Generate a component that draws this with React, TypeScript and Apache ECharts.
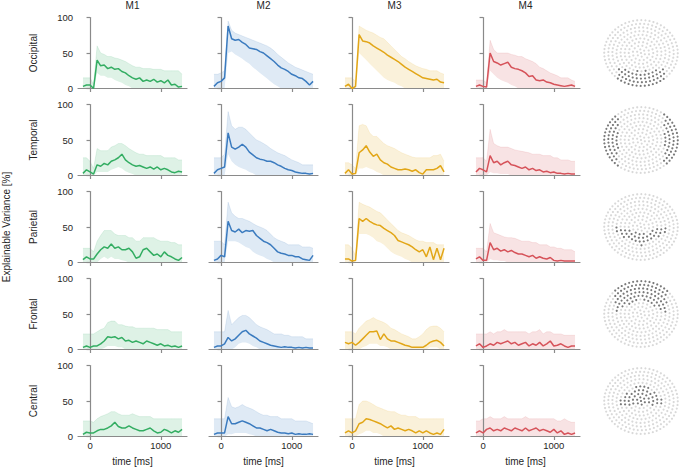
import React, { useEffect, useRef } from "react";
import * as echarts from "echarts";

const MODELS = ["M1", "M2", "M3", "M4"];
const REGIONS = ["Occipital", "Temporal", "Parietal", "Frontal", "Central"];
const COLORS = ["#33ad62", "#3b7bbf", "#e2a617", "#d6535a"];
const X_TICKS = [0, 1000];
const TIMES = [-100, -50, 0, 50, 100, 150, 200, 250, 300, 350, 400, 450, 500, 550, 600, 650, 700, 750, 800, 850, 900, 950, 1000, 1050, 1100, 1150, 1200, 1250, 1300];

// Occipital
const occM1Mean = [3, 5, 5, 0, 40, 32, 33, 28, 30, 27, 28, 24, 22, 18, 15, 13, 15, 10, 12, 10, 13, 9, 11, 8, 12, 5, 6, 2, 3];
const occM1Hi = [15, 15, 15, 6, 60, 50, 48, 45, 45, 43, 42, 40, 38, 35, 32, 30, 30, 28, 28, 28, 27, 27, 27, 25, 25, 25, 25, 25, 20];
const occM1Lo = [0, 0, 0, 0, 22, 18, 18, 15, 15, 12, 10, 8, 5, 3, 0, 0, 0, 0, 0, 0, 0, 0, 0, 0, 0, 0, 0, 0, 0];
const occM2Mean = [3, 8, 10, 15, 88, 70, 68, 69, 65, 62, 57, 56, 55, 52, 50, 46, 42, 38, 33, 29, 27, 24, 20, 18, 15, 14, 10, 5, 10];
const occM2Hi = [20, 20, 22, 25, 95, 82, 78, 76, 74, 72, 70, 68, 66, 64, 62, 60, 57, 53, 48, 44, 40, 36, 33, 30, 28, 26, 24, 22, 20];
const occM2Lo = [0, 0, 0, 0, 50, 52, 48, 45, 42, 38, 35, 30, 26, 22, 18, 14, 10, 6, 3, 0, 0, 0, 0, 0, 0, 0, 0, 0, 0];
const occM3Mean = [3, 6, 0, 3, 76, 67, 66, 64, 60, 57, 54, 51, 47, 44, 41, 38, 34, 30, 27, 24, 21, 18, 15, 14, 13, 12, 13, 9, 8];
const occM3Hi = [15, 15, 15, 10, 88, 85, 82, 80, 78, 75, 72, 70, 65, 60, 55, 50, 45, 42, 38, 35, 32, 30, 28, 27, 25, 25, 25, 22, 20];
const occM3Lo = [0, 0, 0, 0, 50, 45, 40, 35, 30, 25, 20, 15, 12, 10, 8, 5, 3, 0, 0, 0, 0, 0, 0, 0, 0, 0, 0, 0, 0];
const occM4Mean = [3, 5, 3, 2, 50, 38, 36, 33, 35, 37, 30, 28, 27, 25, 22, 17, 18, 12, 11, 12, 9, 8, 6, 5, 4, 3, 4, 5, 3];
const occM4Hi = [12, 12, 12, 8, 68, 55, 50, 50, 50, 50, 48, 47, 45, 45, 42, 40, 38, 35, 30, 28, 25, 22, 20, 18, 15, 15, 15, 12, 10];
const occM4Lo = [0, 0, 0, 0, 25, 20, 15, 12, 10, 8, 5, 3, 0, 0, 0, 0, 0, 0, 0, 0, 0, 0, 0, 0, 0, 0, 0, 0, 0];

// Temporal
const temM1Mean = [3, 8, 5, 2, 15, 13, 17, 15, 20, 22, 25, 30, 22, 18, 15, 13, 14, 12, 10, 12, 9, 12, 8, 10, 8, 5, 4, 6, 5];
const temM1Hi = [25, 25, 20, 10, 38, 35, 35, 35, 40, 42, 45, 45, 42, 38, 35, 32, 30, 30, 28, 28, 28, 28, 28, 25, 25, 25, 25, 22, 22];
const temM1Lo = [0, 0, 0, 0, 5, 5, 5, 5, 8, 10, 12, 10, 6, 4, 2, 0, 0, 0, 0, 0, 0, 0, 0, 0, 0, 0, 0, 0, 0];
const temM2Mean = [3, 8, 10, 12, 60, 40, 37, 40, 44, 40, 33, 29, 25, 23, 22, 20, 20, 18, 15, 13, 10, 8, 7, 5, 4, 3, 3, 2, 3];
const temM2Hi = [25, 25, 25, 30, 90, 70, 65, 68, 68, 65, 60, 55, 50, 48, 45, 42, 38, 35, 32, 30, 28, 25, 22, 20, 18, 15, 15, 15, 15];
const temM2Lo = [0, 0, 0, 0, 30, 20, 15, 12, 10, 8, 5, 3, 0, 0, 0, 0, 0, 0, 0, 0, 0, 0, 0, 0, 0, 0, 0, 0, 0];
const temM3Mean = [3, 8, 2, 3, 32, 36, 42, 33, 27, 30, 22, 18, 16, 12, 10, 8, 8, 9, 8, 6, 8, 4, 2, 8, 8, 8, 10, 14, 5];
const temM3Hi = [18, 18, 15, 10, 70, 72, 70, 60, 55, 55, 50, 45, 42, 40, 38, 35, 32, 30, 28, 26, 25, 25, 25, 25, 25, 28, 28, 30, 20];
const temM3Lo = [0, 0, 0, 0, 10, 10, 12, 10, 8, 5, 3, 0, 0, 0, 0, 0, 0, 0, 0, 0, 0, 0, 0, 0, 0, 0, 0, 0, 0];
const temM4Mean = [5, 10, 8, 5, 28, 18, 20, 15, 18, 20, 15, 14, 12, 10, 12, 8, 10, 7, 8, 5, 6, 4, 5, 3, 3, 2, 3, 2, 2];
const temM4Hi = [25, 25, 25, 20, 65, 45, 42, 40, 40, 40, 38, 36, 35, 34, 33, 32, 30, 30, 30, 28, 28, 28, 25, 25, 22, 22, 22, 20, 20];
const temM4Lo = [0, 0, 0, 0, 5, 3, 3, 2, 2, 2, 0, 0, 0, 0, 0, 0, 0, 0, 0, 0, 0, 0, 0, 0, 0, 0, 0, 0, 0];

// Parietal
const parM1Mean = [4, 8, 5, 5, 12, 18, 22, 20, 26, 20, 22, 18, 18, 20, 15, 6, 8, 18, 20, 15, 10, 12, 8, 15, 10, 8, 5, 3, 7];
const parM1Hi = [20, 20, 20, 15, 30, 38, 45, 45, 45, 40, 38, 38, 38, 35, 35, 30, 30, 35, 35, 35, 35, 32, 30, 30, 30, 28, 28, 25, 25];
const parM1Lo = [0, 0, 0, 0, 0, 5, 8, 5, 8, 5, 5, 3, 2, 0, 0, 0, 0, 0, 0, 0, 0, 0, 0, 0, 0, 0, 0, 0, 0];
const parM2Mean = [3, 5, 10, 8, 58, 45, 43, 47, 42, 45, 44, 45, 38, 34, 30, 28, 25, 20, 15, 13, 12, 10, 10, 8, 8, 5, 4, 3, 10];
const parM2Hi = [30, 30, 30, 25, 85, 70, 65, 62, 62, 60, 58, 55, 52, 50, 48, 45, 40, 35, 32, 30, 28, 25, 25, 25, 25, 22, 22, 22, 20];
const parM2Lo = [0, 0, 0, 0, 30, 30, 30, 28, 25, 22, 20, 15, 12, 10, 8, 5, 3, 0, 0, 0, 0, 0, 0, 0, 0, 0, 0, 0, 0];
const parM3Mean = [5, 5, 2, 3, 62, 58, 62, 58, 55, 53, 52, 48, 45, 42, 38, 31, 29, 27, 25, 22, 18, 15, 18, 8, 22, 4, 20, 4, 20];
const parM3Hi = [25, 25, 20, 10, 85, 82, 80, 78, 75, 72, 70, 65, 60, 55, 50, 45, 42, 40, 38, 35, 32, 30, 30, 28, 28, 28, 25, 25, 25];
const parM3Lo = [0, 0, 0, 0, 40, 40, 40, 38, 35, 30, 28, 25, 20, 15, 12, 10, 8, 5, 3, 0, 0, 0, 0, 0, 0, 0, 0, 0, 0];
const parM4Mean = [5, 8, 3, 3, 28, 18, 20, 16, 18, 15, 17, 14, 12, 12, 10, 8, 10, 6, 8, 6, 5, 7, 3, 2, 3, 2, 2, 2, 2];
const parM4Hi = [20, 20, 20, 15, 55, 42, 40, 38, 36, 35, 35, 34, 32, 30, 30, 30, 28, 28, 25, 25, 25, 22, 22, 20, 20, 18, 18, 18, 15];
const parM4Lo = [0, 0, 0, 0, 5, 3, 3, 2, 2, 0, 0, 0, 0, 0, 0, 0, 0, 0, 0, 0, 0, 0, 0, 0, 0, 0, 0, 0, 0];

// Frontal
const froM1Mean = [3, 5, 3, 5, 5, 8, 12, 18, 17, 18, 15, 17, 12, 13, 10, 12, 10, 8, 12, 10, 8, 6, 8, 5, 6, 4, 5, 3, 5];
const froM1Hi = [22, 22, 22, 22, 25, 28, 30, 38, 40, 40, 35, 35, 33, 32, 32, 30, 30, 30, 30, 30, 30, 28, 28, 28, 28, 25, 25, 25, 25];
const froM1Lo = [0, 0, 0, 0, 0, 0, 2, 5, 5, 5, 3, 3, 0, 0, 0, 0, 0, 0, 0, 0, 0, 0, 0, 0, 0, 0, 0, 0, 0];
const froM2Mean = [3, 5, 5, 8, 17, 12, 15, 20, 25, 27, 22, 19, 16, 12, 10, 8, 6, 5, 4, 3, 4, 3, 3, 2, 3, 2, 3, 2, 2];
const froM2Hi = [25, 25, 25, 25, 55, 35, 40, 45, 48, 48, 45, 40, 35, 32, 30, 28, 25, 22, 22, 22, 20, 20, 18, 18, 18, 18, 15, 15, 15];
const froM2Lo = [0, 0, 0, 0, 0, 0, 3, 8, 10, 10, 8, 5, 3, 0, 0, 0, 0, 0, 0, 0, 0, 0, 0, 0, 0, 0, 0, 0, 0];
const froM3Mean = [10, 8, 10, 6, 10, 15, 20, 25, 25, 26, 14, 22, 15, 12, 12, 10, 8, 6, 5, 3, 3, 3, 3, 6, 10, 12, 13, 10, 5];
const froM3Hi = [25, 25, 25, 22, 30, 35, 40, 42, 45, 42, 40, 38, 35, 30, 28, 25, 22, 20, 18, 15, 15, 18, 22, 28, 32, 33, 33, 30, 25];
const froM3Lo = [0, 0, 0, 0, 0, 3, 5, 8, 8, 8, 5, 5, 3, 0, 0, 0, 0, 0, 0, 0, 0, 0, 0, 0, 3, 3, 3, 0, 0];
const froM4Mean = [5, 8, 3, 5, 8, 6, 10, 8, 10, 12, 8, 10, 6, 8, 10, 5, 8, 6, 10, 5, 8, 12, 5, 6, 8, 5, 3, 5, 5];
const froM4Hi = [22, 22, 22, 22, 25, 22, 25, 25, 28, 25, 25, 25, 25, 25, 25, 22, 25, 25, 28, 22, 25, 25, 22, 22, 22, 20, 20, 20, 20];
const froM4Lo = [0, 0, 0, 0, 0, 0, 0, 0, 0, 0, 0, 0, 0, 0, 0, 0, 0, 0, 0, 0, 0, 0, 0, 0, 0, 0, 0, 0, 0];

// Central
const cenM1Mean = [3, 6, 5, 5, 8, 10, 10, 12, 15, 20, 14, 12, 12, 15, 12, 10, 8, 8, 10, 12, 8, 5, 6, 10, 8, 5, 8, 6, 10];
const cenM1Hi = [22, 22, 22, 20, 25, 28, 30, 32, 35, 35, 32, 30, 30, 30, 32, 30, 28, 28, 28, 28, 25, 25, 25, 25, 25, 25, 25, 25, 25];
const cenM1Lo = [0, 0, 0, 0, 0, 0, 0, 0, 0, 0, 0, 0, 0, 0, 0, 0, 0, 0, 0, 0, 0, 0, 0, 0, 0, 0, 0, 0, 0];
const cenM2Mean = [3, 5, 5, 5, 28, 18, 18, 20, 22, 20, 18, 15, 12, 12, 10, 8, 10, 8, 6, 5, 5, 4, 5, 3, 4, 3, 3, 4, 3];
const cenM2Hi = [25, 25, 25, 25, 55, 42, 40, 42, 45, 42, 40, 38, 35, 32, 30, 30, 28, 28, 28, 25, 25, 25, 25, 22, 22, 22, 22, 20, 18];
const cenM2Lo = [0, 0, 0, 0, 3, 3, 5, 5, 5, 5, 3, 2, 0, 0, 0, 0, 0, 0, 0, 0, 0, 0, 0, 0, 0, 0, 0, 0, 0];
const cenM3Mean = [5, 8, 5, 8, 18, 20, 25, 24, 22, 20, 18, 15, 12, 15, 10, 12, 10, 8, 10, 8, 5, 8, 5, 8, 5, 3, 5, 3, 10];
const cenM3Hi = [25, 25, 25, 25, 45, 50, 50, 48, 45, 42, 40, 38, 36, 35, 35, 32, 30, 30, 28, 28, 28, 25, 25, 25, 25, 25, 25, 25, 25];
const cenM3Lo = [0, 0, 0, 0, 3, 5, 8, 8, 5, 5, 3, 0, 0, 0, 0, 0, 0, 0, 0, 0, 0, 0, 0, 0, 0, 0, 0, 0, 0];
const cenM4Mean = [5, 8, 5, 10, 12, 8, 10, 8, 12, 10, 8, 12, 10, 8, 12, 8, 10, 12, 8, 10, 8, 6, 10, 5, 8, 3, 5, 3, 5];
const cenM4Hi = [22, 22, 25, 25, 28, 25, 25, 25, 28, 25, 25, 25, 25, 25, 28, 25, 25, 25, 25, 25, 25, 25, 25, 22, 22, 25, 22, 20, 20];
const cenM4Lo = [0, 0, 0, 0, 0, 0, 0, 0, 0, 0, 0, 0, 0, 0, 0, 0, 0, 0, 0, 0, 0, 0, 0, 0, 0, 0, 0, 0, 0];

const PANELS = [
  [[occM1Mean, occM1Lo, occM1Hi], [occM2Mean, occM2Lo, occM2Hi], [occM3Mean, occM3Lo, occM3Hi], [occM4Mean, occM4Lo, occM4Hi]],
  [[temM1Mean, temM1Lo, temM1Hi], [temM2Mean, temM2Lo, temM2Hi], [temM3Mean, temM3Lo, temM3Hi], [temM4Mean, temM4Lo, temM4Hi]],
  [[parM1Mean, parM1Lo, parM1Hi], [parM2Mean, parM2Lo, parM2Hi], [parM3Mean, parM3Lo, parM3Hi], [parM4Mean, parM4Lo, parM4Hi]],
  [[froM1Mean, froM1Lo, froM1Hi], [froM2Mean, froM2Lo, froM2Hi], [froM3Mean, froM3Lo, froM3Hi], [froM4Mean, froM4Lo, froM4Hi]],
  [[cenM1Mean, cenM1Lo, cenM1Hi], [cenM2Mean, cenM2Lo, cenM2Hi], [cenM3Mean, cenM3Lo, cenM3Hi], [cenM4Mean, cenM4Lo, cenM4Hi]],
];

// layout
const GRID_LEFT = [78, 209, 340, 471];
const GRID_TOP0 = 17.5;
const ROW_PITCH = 87;
const GRID_W = 109;
const GRID_H = 71;
const AXIS_COLOR = "#8a8a8a";
const TEXT_COLOR = "#262626";
const FONT = "Liberation Sans, Arial, sans-serif";
const HEAD_CX = 641;
const HEAD_RX = 38;
const HEAD_RY = 34;
const RING_COUNTS = [1, 6, 12, 18, 25, 31, 37, 43, 50, 56];

function inRegion(region: string, u: number, v: number): boolean {
  const au = Math.abs(u);
  switch (region) {
    case "Occipital":
      return v > 0.42 + 0.12 * (1 - au / 0.62) && au < 0.64;
    case "Temporal":
      return au > 0.6 && Math.abs(v) < 0.8;
    case "Parietal":
      return au < 0.66 && v > 0.2 - 0.36 * au && v < 0.56 - 0.55 * au;
    case "Frontal":
      return au < 0.7 && v < -0.45 + 0.62 * au;
    case "Central":
      return au < 0.6 && v > -0.56 + 0.88 * au && v < 0.13;
  }
  return false;
}

function headGraphics(region: string, cy: number) {
  const els: any[] = [];
  RING_COUNTS.forEach((n, k) => {
    const rr = k / 9.3;
    for (let j = 0; j < n; j++) {
      const a = (2 * Math.PI * j) / n + k * 0.35;
      const u = rr * Math.cos(a);
      const v = rr * Math.sin(a);
      const dark = inRegion(region, u, v);
      els.push({
        type: "circle",
        silent: true,
        shape: { cx: HEAD_CX + u * HEAD_RX, cy: cy + v * HEAD_RY, r: 1.1 },
        style: { fill: dark ? "#7a7a7a" : "#d9d9d9" },
        z: dark ? 11 : 10,
      });
    }
  });
  return els;
}

function buildOption() {
  const grid: any[] = [];
  const xAxis: any[] = [];
  const yAxis: any[] = [];
  const series: any[] = [];
  const graphic: any[] = [];

  PANELS.forEach((row, r) => {
    row.forEach((p, c) => {
      const gi = r * 4 + c;
      const [mean, lo, hi] = p;
      grid.push({ left: GRID_LEFT[c], top: GRID_TOP0 + r * ROW_PITCH, width: GRID_W, height: GRID_H });
      xAxis.push({
        gridIndex: gi,
        type: "value",
        min: -170,
        max: 1370,
        z: 5,
        axisLine: { show: true, lineStyle: { color: AXIS_COLOR, width: 1.2 } },
        axisTick: { show: true, length: 3.5, customValues: X_TICKS, lineStyle: { color: AXIS_COLOR, width: 1.2 } },
        axisLabel: {
          show: r === 4,
          customValues: X_TICKS,
          formatter: (v: number) => String(v),
          fontSize: 9.5,
          fontFamily: FONT,
          color: TEXT_COLOR,
          margin: 4,
        },
        splitLine: { show: false },
        name: r === 4 ? "time [ms]" : "",
        nameLocation: "middle",
        nameGap: 20,
        nameTextStyle: { fontSize: 10, fontFamily: FONT, color: TEXT_COLOR },
      });
      yAxis.push({
        gridIndex: gi,
        type: "value",
        min: 0,
        max: 100,
        interval: 50,
        z: 5,
        axisLine: { show: true, lineStyle: { color: AXIS_COLOR, width: 1.2 } },
        axisTick: { show: true, length: 3.5, lineStyle: { color: AXIS_COLOR, width: 1.2 } },
        axisLabel: { show: c === 0, fontSize: 9.5, fontFamily: FONT, color: TEXT_COLOR, margin: 5 },
        splitLine: { show: false },
      });
      // upper envelope of the individual traces (filled to zero)
      series.push({
        type: "line",
        xAxisIndex: gi,
        yAxisIndex: gi,
        symbol: "none",
        silent: true,
        lineStyle: { width: 0.6, color: COLORS[c], opacity: 0.2 },
        areaStyle: { color: COLORS[c], opacity: 0.16 },
        data: TIMES.map((t, i) => [t, hi[i]]),
        z: 1,
      });
      // lower envelope: mask with background
      series.push({
        type: "line",
        xAxisIndex: gi,
        yAxisIndex: gi,
        symbol: "none",
        silent: true,
        lineStyle: { width: 0, opacity: 0 },
        areaStyle: { color: "#ffffff", opacity: 1 },
        data: TIMES.map((t, i) => [t, lo[i]]),
        z: 2,
      });
      series.push({
        type: "line",
        xAxisIndex: gi,
        yAxisIndex: gi,
        symbol: "none",
        silent: true,
        lineStyle: { color: COLORS[c], width: 1.5 },
        data: TIMES.map((t, i) => [t, mean[i]]),
        z: 6,
      });
    });
  });

  MODELS.forEach((m, c) => {
    graphic.push({
      type: "text",
      x: GRID_LEFT[c] + GRID_W / 2,
      y: 0,
      silent: true,
      style: { text: m, fontSize: 10, fontFamily: FONT, fill: TEXT_COLOR, align: "center", verticalAlign: "top" },
    });
  });

  REGIONS.forEach((name, r) => {
    const cy = GRID_TOP0 + r * ROW_PITCH + GRID_H / 2;
    graphic.push({
      type: "text",
      x: 33,
      y: cy,
      rotation: Math.PI / 2,
      silent: true,
      style: { text: name, fontSize: 10, fontFamily: FONT, fill: TEXT_COLOR, align: "center", verticalAlign: "middle" },
    });
    headGraphics(name, cy).forEach((e) => graphic.push(e));
  });

  graphic.push({
    type: "text",
    x: 6,
    y: (GRID_TOP0 + GRID_TOP0 + 4 * ROW_PITCH + GRID_H) / 2,
    rotation: Math.PI / 2,
    silent: true,
    style: { text: "Explainable Variance [%]", fontSize: 10, fontFamily: FONT, fill: TEXT_COLOR, align: "center", verticalAlign: "middle" },
  });

  return {
    animation: false,
    backgroundColor: "#ffffff",
    grid,
    xAxis,
    yAxis,
    series,
    graphic,
  };
}

export default function App() {
  const ref = useRef<HTMLDivElement>(null);
  useEffect(() => {
    if (!ref.current) return;
    const chart = echarts.init(ref.current, null, { renderer: "svg" });
    chart.setOption(buildOption() as any);
    return () => chart.dispose();
  }, []);
  return (
    <div
      ref={ref}
      style={{ position: "absolute", left: 0, top: 0, width: 682, height: 470, background: "#fff" }}
    />
  );
}
